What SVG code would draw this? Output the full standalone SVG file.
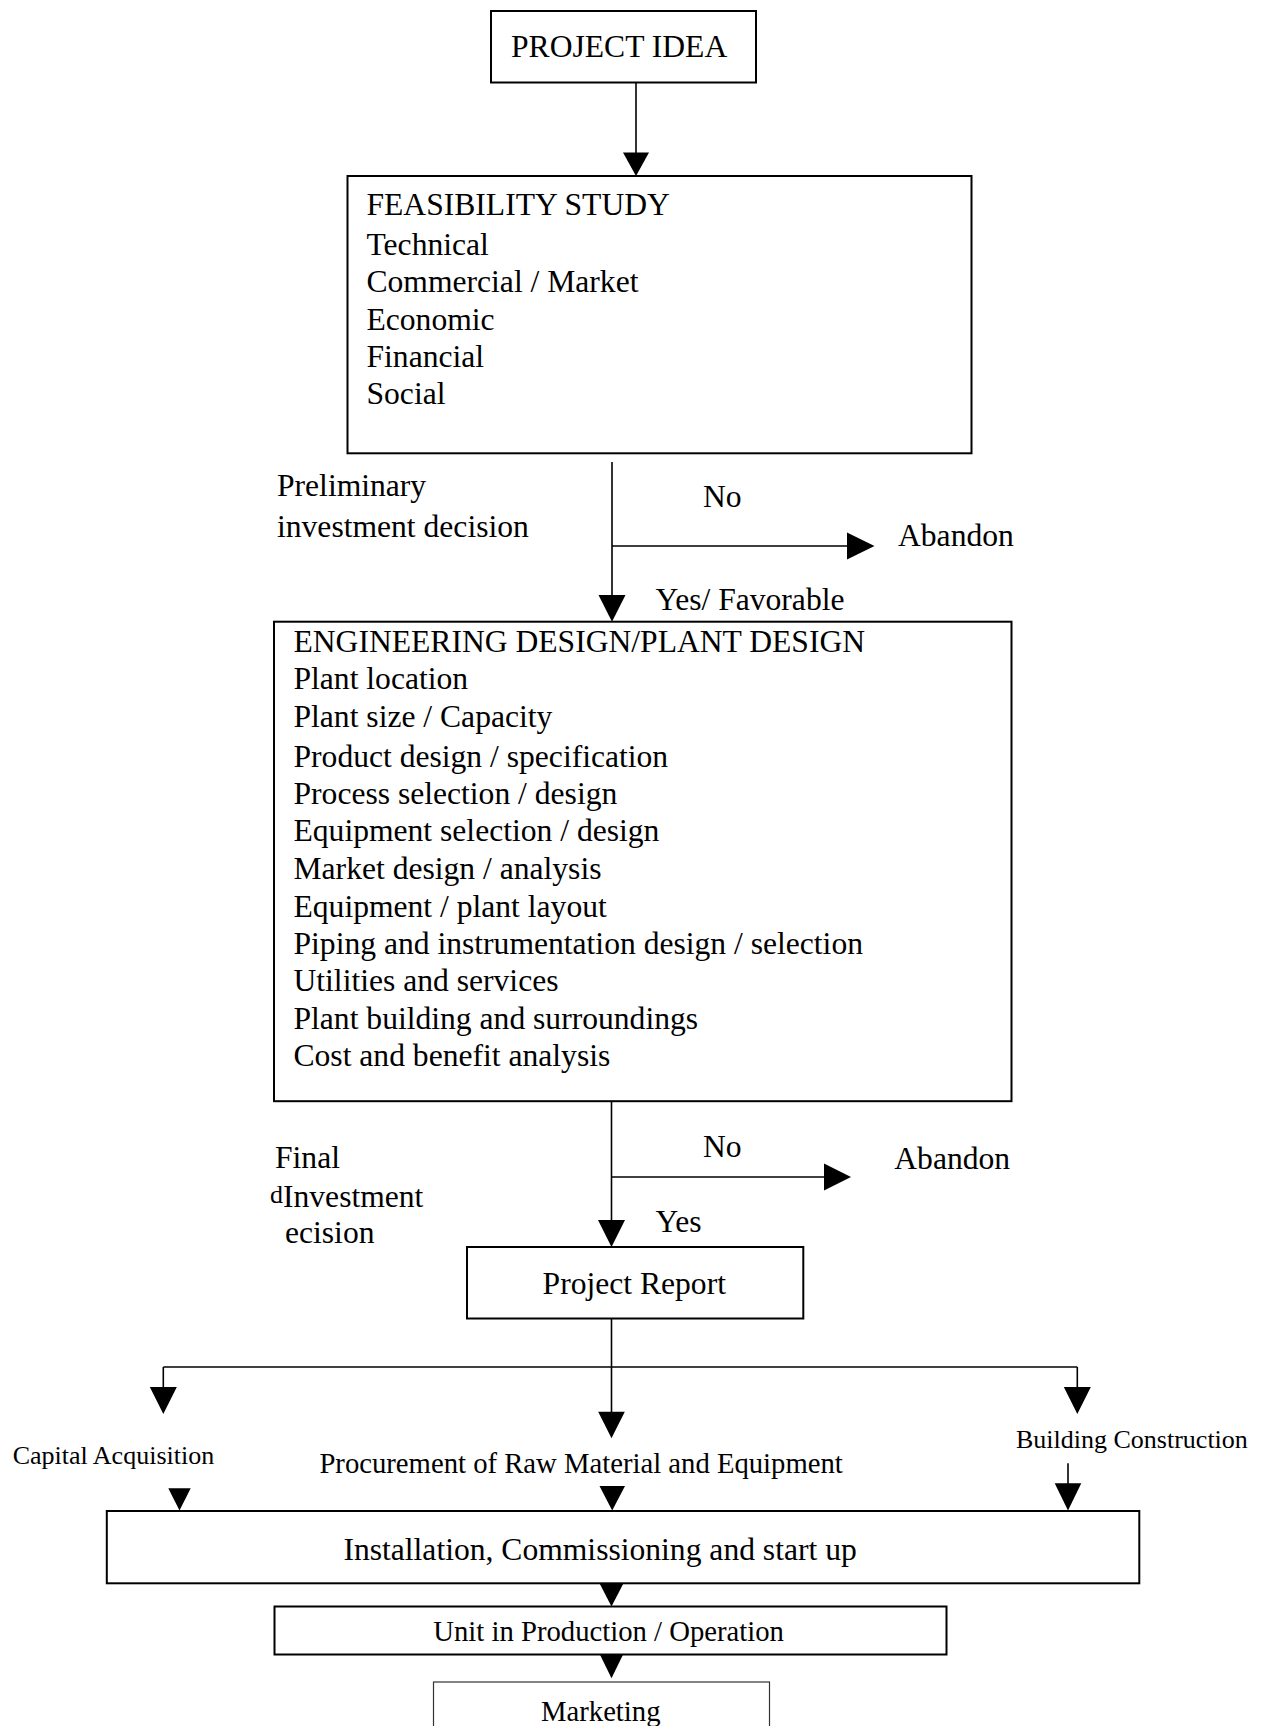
<svg xmlns="http://www.w3.org/2000/svg" width="1261" height="1726" viewBox="0 0 1261 1726">
<style>
  .box { fill: #fff; stroke: #000; stroke-width: 2; }
  .thin { fill: #fff; stroke: #333; stroke-width: 1.2; }
  .ln { fill: none; stroke: #000; stroke-width: 1.6; }
  .ah { fill: #000; stroke: none; }
  text { font-family: "Liberation Serif", "Times New Roman", serif; fill: #000; }
  .l { font-size: 31.6px; }
  .m { font-size: 28.7px; }
  .s { font-size: 26px; }
  .d { font-size: 26px; }
</style>
<rect width="1261" height="1726" fill="#fff"/>

<g id="connectors">
  <line class="ln" x1="636" y1="82.5" x2="636" y2="160"/>
  <path class="ah" d="M623,152.5 L649,152.5 L636,176 Z"/>

  <line class="ln" x1="612" y1="462" x2="612" y2="600"/>
  <path class="ah" d="M598.5,595 L625.5,595 L612,621.7 Z"/>
  <line class="ln" x1="612" y1="546" x2="850" y2="546"/>
  <path class="ah" d="M847,532.5 L847,559.5 L874.5,546 Z"/>

  <line class="ln" x1="611.5" y1="1101" x2="611.5" y2="1225"/>
  <path class="ah" d="M598,1220 L625,1220 L611.5,1247 Z"/>
  <line class="ln" x1="611.5" y1="1177" x2="828" y2="1177"/>
  <path class="ah" d="M824,1163.5 L824,1190.5 L851,1177 Z"/>

  <line class="ln" x1="611.5" y1="1318.5" x2="611.5" y2="1415"/>
  <path class="ah" d="M598.2,1411.7 L624.8,1411.7 L611.5,1438.3 Z"/>
  <line class="ln" x1="163.3" y1="1367" x2="1077.3" y2="1367"/>
  <line class="ln" x1="163.3" y1="1367" x2="163.3" y2="1390"/>
  <path class="ah" d="M149.8,1387 L176.8,1387 L163.3,1414 Z"/>
  <line class="ln" x1="1077.3" y1="1367" x2="1077.3" y2="1390"/>
  <path class="ah" d="M1063.8,1387 L1090.8,1387 L1077.3,1414 Z"/>

  <path class="ah" d="M168.3,1488.3 L190.7,1488.3 L179.5,1510.5 Z"/>
  <path class="ah" d="M599.5,1486 L625,1486 L612.2,1510.5 Z"/>
  <line class="ln" x1="1068" y1="1463.3" x2="1068" y2="1486"/>
  <path class="ah" d="M1054.7,1483.3 L1081.3,1483.3 L1068,1510.5 Z"/>

  <path class="ah" d="M598.2,1580.7 L624.8,1580.7 L611.5,1606.5 Z"/>
  <path class="ah" d="M598.2,1651 L624.8,1651 L611.5,1678.3 Z"/>
</g>

<g id="project-idea">
  <rect class="box" x="491" y="11" width="265" height="71.5"/>
  <text class="l" x="511" y="57">PROJECT IDEA</text>
</g>

<g id="feasibility-study">
  <rect class="box" x="347.5" y="176" width="624" height="277.3"/>
  <text class="l" x="366.5" y="215">FEASIBILITY STUDY</text>
  <text class="l" x="366.5" y="255">Technical</text>
  <text class="l" x="366.5" y="291.7">Commercial / Market</text>
  <text class="l" x="366.5" y="329.8">Economic</text>
  <text class="l" x="366.5" y="366.7">Financial</text>
  <text class="l" x="366.5" y="404">Social</text>
</g>

<g id="preliminary-decision">
  <text class="l" x="277" y="495.5">Preliminary</text>
  <text class="l" x="277" y="536.5">investment decision</text>
  <text class="l" x="703" y="506.5">No</text>
  <text class="l" x="898" y="545.5">Abandon</text>
  <text class="l" x="655.5" y="610">Yes/ Favorable</text>
</g>

<g id="engineering-design">
  <rect class="box" x="274" y="621.7" width="737.5" height="479.5"/>
  <text class="l" x="293.5" y="651.7">ENGINEERING DESIGN/PLANT DESIGN</text>
  <text class="l" x="293.5" y="688.8">Plant location</text>
  <text class="l" x="293.5" y="726.7">Plant size / Capacity</text>
  <text class="l" x="293.5" y="766.7">Product design / specification</text>
  <text class="l" x="293.5" y="803.7">Process selection / design</text>
  <text class="l" x="293.5" y="841.2">Equipment selection / design</text>
  <text class="l" x="293.5" y="879">Market design / analysis</text>
  <text class="l" x="293.5" y="916.5">Equipment / plant layout</text>
  <text class="l" x="293.5" y="953.5">Piping and instrumentation design / selection</text>
  <text class="l" x="293.5" y="991.3">Utilities and services</text>
  <text class="l" x="293.5" y="1028.8">Plant building and surroundings</text>
  <text class="l" x="293.5" y="1066.3">Cost and benefit analysis</text>
</g>

<g id="final-decision">
  <text class="l" x="275" y="1168.3">Final</text>
  <text class="d" x="270" y="1202.5">d</text>
  <text class="l" x="283" y="1206.7">Investment</text>
  <text class="l" x="285" y="1243">ecision</text>
  <text class="l" x="703" y="1156.7">No</text>
  <text class="l" x="894.3" y="1169">Abandon</text>
  <text class="l" x="655.5" y="1231.7">Yes</text>
</g>

<g id="project-report">
  <rect class="box" x="467" y="1247" width="336.3" height="71.5"/>
  <text class="l" x="542.6" y="1293.8">Project Report</text>
</g>

<g id="capital-acquisition">
  <text class="s" x="12.7" y="1463.8">Capital Acquisition</text>
</g>
<g id="procurement">
  <text class="m" x="319.4" y="1472.7">Procurement of Raw Material and Equipment</text>
</g>
<g id="building-construction">
  <text class="s" x="1016" y="1448.3">Building Construction</text>
</g>

<g id="installation">
  <rect class="box" x="106.8" y="1511" width="1032.5" height="72.3"/>
  <text class="l" x="343.4" y="1559.5">Installation, Commissioning and start up</text>
</g>

<g id="unit-in-production">
  <rect class="box" x="274.5" y="1606.5" width="672" height="48"/>
  <text class="m" x="433.3" y="1641">Unit in Production / Operation</text>
</g>

<g id="marketing">
  <rect class="thin" x="433.5" y="1682" width="336" height="70"/>
  <text class="m" x="541" y="1720.5">Marketing</text>
</g>
</svg>
